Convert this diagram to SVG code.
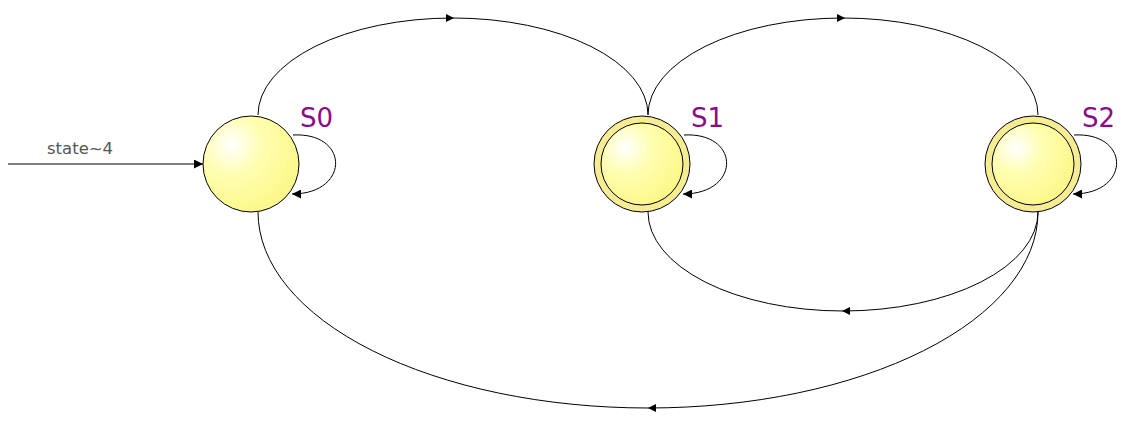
<svg xmlns="http://www.w3.org/2000/svg" width="1135" height="424" viewBox="0 0 1135 424">
<style>
.edge{fill:none;stroke:#000;stroke-width:1}
.lbl{font-family:"DejaVu Sans",sans-serif;font-size:26px;fill:#8B0A8B}
.in{font-family:"DejaVu Sans",sans-serif;font-size:16.5px;fill:#555}
.ring{fill:#F5EC94;stroke:#000;stroke-width:1}
.body{fill:url(#g);stroke:#000;stroke-width:1}
.ah{fill:#000}
</style>
<defs>
<radialGradient id="g" cx="0.3" cy="0.3" r="0.8">
<stop offset="0" stop-color="#ffffff"/>
<stop offset="0.4" stop-color="#fefeb0"/>
<stop offset="1" stop-color="#fdf785"/>
</radialGradient>
<marker id="arr" viewBox="0 0 10 10" refX="10" refY="5" markerWidth="9" markerHeight="9" markerUnits="userSpaceOnUse" orient="auto">
<path d="M0,0 L10,5 L0,10 z" fill="#000"/>
</marker>
</defs>
<g id="connectors">
<path class="edge" d="M8,164 L203,164" marker-end="url(#arr)"/>
<path class="edge" d="M258,115 A195,97 0 0 1 648,115"/>
<path class="edge" d="M648,115 A195,97 0 0 1 1038,115"/>
<path class="edge" d="M648,212 A195,99 0 0 0 1038,212"/>
<path class="edge" d="M258,212 A390,196 0 0 0 1038,212"/>
<path class="edge" d="M293,135 C350,132 350,194 292,194" marker-end="url(#arr)"/>
<path class="edge" d="M684,135 C741,132 741,194 683,194" marker-end="url(#arr)"/>
<path class="edge" d="M1074,135 C1131,132 1131,194 1073,194" marker-end="url(#arr)"/>
<polygon class="ah" points="454,18 446,14 446,22"/>
<polygon class="ah" points="845,18 837,14 837,22"/>
<polygon class="ah" points="842,311 850,307 850,315"/>
<polygon class="ah" points="648,408 656,404 656,412"/>
<text class="in" x="47" y="154">state~4</text>
</g>
<g id="S0">
<circle class="body" cx="251" cy="164" r="48"/>
<text class="lbl" x="300" y="127">S0</text>
</g>
<g id="S1">
<circle class="ring" cx="642" cy="164" r="48"/>
<circle class="body" cx="642" cy="164" r="41"/>
<text class="lbl" x="691" y="127">S1</text>
</g>
<g id="S2">
<circle class="ring" cx="1033" cy="164" r="48"/>
<circle class="body" cx="1033" cy="164" r="41"/>
<text class="lbl" x="1082" y="127">S2</text>
</g>
</svg>
